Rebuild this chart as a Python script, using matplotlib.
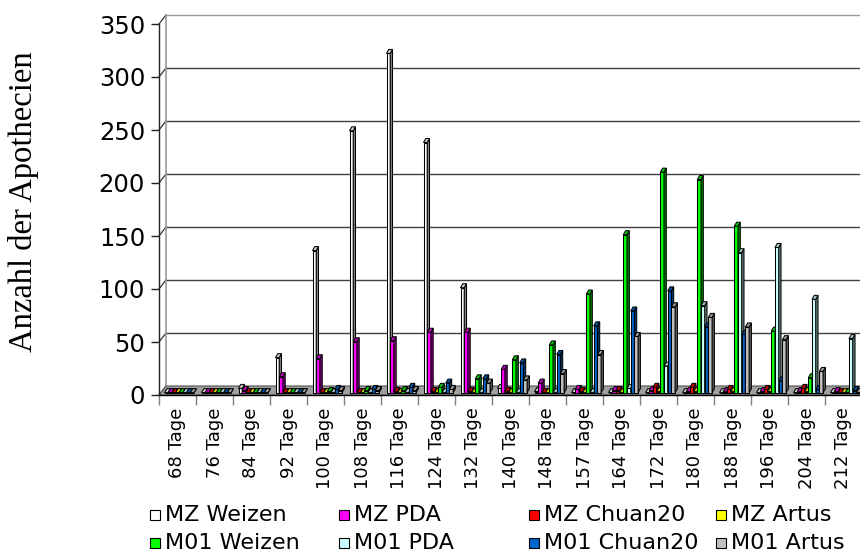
import numpy as np
import matplotlib
matplotlib.use('Agg')
import matplotlib.pyplot as plt
from matplotlib.patches import Polygon, Rectangle
from matplotlib import colors as mcolors


days = [68, 76, 84, 92, 100, 108, 116, 124, 132, 140, 148, 157, 164, 172, 180, 188, 196, 204, 212]
tick_labels = ['%d Tage' % d for d in days]

series_names = ['MZ Weizen', 'MZ PDA', 'MZ Chuan20', 'MZ Artus',
                'M01 Weizen', 'M01 PDA', 'M01 Chuan20', 'M01 Artus']
series_colors = ['#ffffff', '#ff00ff', '#ff0000', '#ffff00',
                 '#00ff00', '#ccffff', '#0066cc', '#c0c0c0']

mz_weizen = [0, 0, 4, 33, 134, 247, 320, 236, 99, 4, 1, 0, 0, 0, 0, 0, 0, 0, 0]
mz_pda = [0, 0, 2, 15, 32, 48, 49, 57, 57, 22, 9, 3, 2, 2, 1, 1, 1, 1, 1]
mz_chuan20 = [0, 0, 0, 0, 0, 0, 1, 1, 1, 1, 0, 1, 2, 5, 5, 3, 3, 4, 0]
mz_artus = [0, 0, 0, 0, 0, 0, 0, 0, 0, 0, 0, 0, 0, 1, 1, 1, 1, 1, 0]
m01_weizen = [0, 0, 0, 0, 1, 2, 2, 5, 13, 31, 45, 93, 149, 208, 201, 157, 58, 14, 0]
m01_pda = [0, 0, 0, 0, 0, 0, 0, 0, 0, 0, 0, 0, 4, 25, 82, 132, 137, 88, 51]
m01_chuan20 = [0, 0, 0, 0, 3, 3, 5, 9, 13, 28, 36, 63, 77, 96, 62, 55, 11, 3, 2]
m01_artus = [0, 0, 0, 0, 2, 2, 2, 3, 9, 12, 18, 36, 53, 81, 71, 62, 50, 20, 0]

series = [mz_weizen, mz_pda, mz_chuan20, mz_artus,
          m01_weizen, m01_pda, m01_chuan20, m01_artus]

W, H = 860, 558
n = len(days)

# pseudo 3d geometry (x in categories, y in data units)
DX, DY = 7 / 37, 8.5          # depth of the walls / floor
OFF, BW = 5.5 / 37, 3.7 / 37  # first bar offset, bar width
CDX, CDY = 2.3 / 37, 3.8      # depth of a single column
BASE = 2.2                    # columns stand in the middle of the floor


def shade(c, f):
    rgb = np.array(mcolors.to_rgb(c)) * f
    return tuple(np.clip(rgb, 0, 1))


fig = plt.figure(figsize=(W / 100, H / 100), dpi=100)
ax = fig.add_axes([159 / W, (H - 395) / H, 703 / W, 371 / H])
ax.set_xlim(0, n)
ax.set_ylim(0, 350)

# back wall grid, left wall and floor
grid_c = '#404040'
for v in range(50, 351, 50):
    ax.plot([DX, n + DX], [v + DY, v + DY], color=grid_c if v < 350 else '#9a9a9a',
            lw=1.0, clip_on=False, zorder=1)
for v in range(0, 351, 50):
    ax.plot([0, DX], [v, v + DY], color='#333333', lw=0.9, clip_on=False, zorder=1)
ax.plot([DX, DX], [DY, 350 + DY], color='#9a9a9a', lw=1.2, clip_on=False, zorder=1)

floor = Polygon([(0, 0), (n, 0), (n + DX, DY), (DX, DY)], closed=True,
                facecolor='#a0a0a0', edgecolor='#555555', lw=0.8, clip_on=False, zorder=1.5)
ax.add_patch(floor)
ax.plot([0, n], [0, 0], color='black', lw=1.0, clip_on=False, zorder=1.6)

# columns
z = 2.0
for i in range(n):
    for k, vals in enumerate(series):
        v = vals[i]
        c = series_colors[k]
        x0 = i + OFF + k * BW
        top = BASE + v
        ax.bar(x0, v, width=BW, bottom=BASE, align='edge', color=c,
               edgecolor='black', lw=0.75, zorder=z, clip_on=False)
        side = Polygon([(x0 + BW, BASE), (x0 + BW + CDX, BASE + CDY),
                        (x0 + BW + CDX, top + CDY), (x0 + BW, top)], closed=True,
                       facecolor=shade(c, 0.5), edgecolor='black', lw=0.75,
                       zorder=z + 0.001, clip_on=False)
        cap = Polygon([(x0, top), (x0 + BW, top), (x0 + BW + CDX, top + CDY),
                       (x0 + CDX, top + CDY)], closed=True,
                      facecolor=shade(c, 0.8), edgecolor='black', lw=0.75,
                      zorder=z + 0.002, clip_on=False)
        ax.add_patch(side)
        ax.add_patch(cap)
        z += 0.01

# axes and ticks
for s in ['top', 'right', 'bottom']:
    ax.spines[s].set_visible(False)
ax.spines['left'].set_color('#222222')
ax.spines['left'].set_linewidth(1.0)
ax.set_yticks(np.arange(0, 351, 50))
ax.tick_params(axis='y', length=6, width=1, color='#222222', pad=4, labelsize=17.5)

ax.set_xticks(np.arange(0, n + 1))
ax.set_xticklabels([''] * (n + 1))
ax.tick_params(axis='x', which='major', length=7, width=1, color='#808080')
ax.set_xticks(np.arange(n) + 0.5, minor=True)
ax.set_xticklabels(tick_labels, minor=True, rotation=90, fontsize=13)
ax.tick_params(axis='x', which='minor', length=0, pad=9)

fig.text(24 / W, 1 - 202 / H, 'Anzahl der Apothecien', rotation=90,
         family='Liberation Serif', fontsize=23.5, ha='center', va='center')

# legend, four columns in two rows
leg_x = [150, 339, 529, 716]
leg_y = [515, 543]
for k, name in enumerate(series_names):
    x = leg_x[k % 4]
    y = leg_y[k // 4]
    fig.patches.append(Rectangle((x / W, 1 - (y + 5) / H), 10 / W, 10 / H,
                                 transform=fig.transFigure, facecolor=series_colors[k],
                                 edgecolor='black', lw=0.8))
    fig.text((x + 15) / W, 1 - y / H, name, va='center', ha='left', fontsize=16)

fig.savefig('out.png', dpi=100)
